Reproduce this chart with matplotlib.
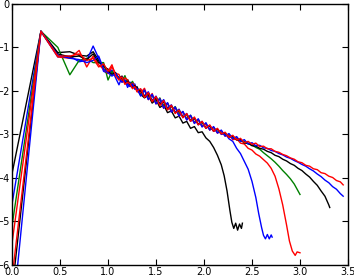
import matplotlib
matplotlib.use("Agg")
import matplotlib.pyplot as plt

# Head of every curve: first two points and the discrete points up to x = 1.3
x_head = [0.0, 0.301, 0.477, 0.602, 0.699, 0.778, 0.845, 0.903, 0.954, 1.0,
          1.041, 1.079, 1.114, 1.146, 1.176, 1.204, 1.230, 1.255, 1.279, 1.301]

black_a_head = [-3.9, -0.63, -1.12, -1.10, -1.18, -1.20, -1.10, -1.30, -1.45, -1.50,
                -1.58, -1.62, -1.70, -1.66, -1.78, -1.74, -1.85, -1.80, -1.95, -1.90]
blue_a_head = [-4.6, -0.63, -1.22, -1.20, -1.33, -1.30, -0.97, -1.25, -1.55, -1.60,
               -1.52, -1.70, -1.86, -1.68, -1.75, -1.92, -1.80, -1.88, -1.84, -2.00]
green_head = [-5.1, -0.63, -1.00, -1.63, -1.30, -1.25, -1.35, -1.35, -1.35, -1.75,
              -1.55, -1.62, -1.70, -1.78, -1.65, -1.82, -1.86, -1.78, -1.92, -1.95]
red_a_head = [-5.5, -0.63, -1.22, -1.25, -1.07, -1.45, -1.20, -1.40, -1.50, -1.60,
              -1.45, -1.60, -1.62, -1.80, -1.70, -1.75, -1.90, -1.82, -1.88, -2.02]
black_b_head = [-6.6, -0.63, -1.15, -1.22, -1.20, -1.28, -1.15, -1.35, -1.40, -1.55,
                -1.62, -1.58, -1.74, -1.70, -1.82, -1.78, -1.86, -1.92, -1.88, -1.98]
blue_b_head = [-7.3, -0.63, -1.18, -1.25, -1.28, -1.35, -1.30, -1.20, -1.50, -1.58,
               -1.66, -1.60, -1.72, -1.80, -1.76, -1.85, -1.90, -1.84, -1.96, -1.94]
red_b_head = [-6.3, -0.63, -1.20, -1.20, -1.15, -1.30, -1.25, -1.45, -1.38, -1.55,
              -1.40, -1.65, -1.75, -1.68, -1.85, -1.80, -1.84, -1.95, -1.90, -2.00]

# Tails of the curves
x_mid = [1.34, 1.38, 1.42, 1.46, 1.50, 1.54, 1.58, 1.62, 1.66, 1.70, 1.74, 1.78,
         1.82, 1.86, 1.90, 1.94, 1.98, 2.02, 2.06, 2.10, 2.14, 2.18]

black_a_x = x_mid + [2.21, 2.24, 2.27, 2.29, 2.31, 2.33, 2.35, 2.37, 2.39, 2.40]
black_a_y = [-2.08, -2.16, -2.10, -2.28, -2.20, -2.38, -2.32, -2.50, -2.46, -2.62,
             -2.58, -2.74, -2.70, -2.86, -2.82, -2.96, -2.94, -3.08, -3.16, -3.30,
             -3.48, -3.70, -3.95, -4.30, -4.75, -5.02, -5.16, -5.04, -5.20, -5.06,
             -5.16, -5.04]

blue_a_x = x_mid + [2.22, 2.26, 2.30, 2.34, 2.38, 2.42, 2.46, 2.50, 2.54, 2.57,
                    2.60, 2.62, 2.64, 2.66, 2.68, 2.70, 2.71]
blue_a_y = [-1.96, -2.12, -2.02, -2.22, -2.12, -2.30, -2.20, -2.40, -2.32, -2.50,
            -2.42, -2.60, -2.52, -2.70, -2.62, -2.78, -2.70, -2.86, -2.80, -2.93,
            -2.88, -3.00, -2.98, -3.10, -3.16, -3.32, -3.44, -3.62, -3.80, -4.08,
            -4.45, -4.82, -5.14, -5.32, -5.40, -5.30, -5.40, -5.31, -5.36]

green_x = x_mid + [2.22, 2.26, 2.30, 2.34, 2.38, 2.42, 2.46, 2.50, 2.54, 2.58,
                   2.62, 2.66, 2.70, 2.74, 2.78, 2.82, 2.86, 2.90, 2.94, 2.98, 3.00]
green_y = [-2.10, -1.98, -2.18, -2.10, -2.28, -2.16, -2.38, -2.28, -2.46, -2.36,
           -2.54, -2.48, -2.64, -2.56, -2.72, -2.66, -2.80, -2.76, -2.88, -2.84,
           -2.95, -2.92, -3.02, -3.00, -3.08, -3.08, -3.15, -3.16, -3.22, -3.24,
           -3.30, -3.34, -3.42, -3.49, -3.56, -3.64, -3.73, -3.83, -3.92, -4.02,
           -4.14, -4.30, -4.38]

red_a_x = x_mid + [2.22, 2.26, 2.30, 2.34, 2.38, 2.42, 2.46, 2.50, 2.54, 2.58,
                   2.62, 2.66, 2.70, 2.74, 2.78, 2.82, 2.86, 2.89, 2.92, 2.95,
                   2.97, 3.00]
red_a_y = [-2.04, -1.94, -2.20, -2.06, -2.30, -2.18, -2.40, -2.28, -2.48, -2.38,
           -2.58, -2.48, -2.66, -2.58, -2.74, -2.66, -2.82, -2.76, -2.90, -2.84,
           -2.97, -2.92, -3.04, -3.00, -3.12, -3.10, -3.20, -3.22, -3.32, -3.36,
           -3.45, -3.50, -3.58, -3.66, -3.78, -3.96, -4.25, -4.62, -5.08, -5.45,
           -5.68, -5.78, -5.70, -5.72]

x_long = x_mid + [2.22, 2.26, 2.30, 2.34, 2.38, 2.42, 2.46, 2.50, 2.54, 2.58,
                  2.62, 2.66, 2.70, 2.74, 2.78, 2.82, 2.86, 2.90, 2.94, 2.98,
                  3.02, 3.06, 3.10, 3.14, 3.18, 3.22, 3.26, 3.30]

black_b_x = x_long + [3.31]
black_b_y = [-2.00, -2.12, -2.06, -2.24, -2.16, -2.30, -2.26, -2.42, -2.35, -2.50,
             -2.46, -2.60, -2.54, -2.68, -2.63, -2.76, -2.72, -2.85, -2.80, -2.92,
             -2.88, -2.98, -2.96, -3.06, -3.04, -3.13, -3.12, -3.20, -3.20, -3.26,
             -3.27, -3.32, -3.34, -3.39, -3.42, -3.48, -3.51, -3.57, -3.61, -3.67,
             -3.71, -3.78, -3.83, -3.91, -3.98, -4.08, -4.17, -4.30, -4.42, -4.62,
             -4.68]

blue_b_x = x_long + [3.34, 3.38, 3.42, 3.45]
blue_b_y = [-2.12, -1.98, -2.20, -2.08, -2.30, -2.18, -2.40, -2.27, -2.49, -2.37,
            -2.58, -2.47, -2.67, -2.56, -2.75, -2.64, -2.83, -2.73, -2.90, -2.82,
            -2.97, -2.90, -3.04, -2.98, -3.10, -3.05, -3.16, -3.12, -3.22, -3.19,
            -3.26, -3.25, -3.31, -3.32, -3.37, -3.39, -3.44, -3.47, -3.52, -3.55,
            -3.60, -3.64, -3.69, -3.73, -3.79, -3.84, -3.91, -3.97, -4.05, -4.11,
            -4.20, -4.26, -4.36, -4.42]

red_b_x = x_long + [3.34, 3.38, 3.42, 3.45]
red_b_y = [-1.95, -2.15, -2.04, -2.25, -2.13, -2.34, -2.22, -2.44, -2.33, -2.52,
           -2.44, -2.62, -2.52, -2.70, -2.60, -2.78, -2.70, -2.86, -2.78, -2.93,
           -2.86, -2.99, -2.95, -3.07, -3.02, -3.13, -3.09, -3.19, -3.16, -3.23,
           -3.20, -3.28, -3.27, -3.33, -3.33, -3.39, -3.41, -3.46, -3.49, -3.54,
           -3.57, -3.63, -3.65, -3.71, -3.73, -3.79, -3.81, -3.88, -3.90, -3.96,
           -3.99, -4.06, -4.09, -4.16]

curves = [
    ("k", black_a_head, black_a_x, black_a_y),
    ("b", blue_a_head, blue_a_x, blue_a_y),
    ("g", green_head, green_x, green_y),
    ("r", red_a_head, red_a_x, red_a_y),
    ("k", black_b_head, black_b_x, black_b_y),
    ("b", blue_b_head, blue_b_x, blue_b_y),
    ("r", red_b_head, red_b_x, red_b_y),
]

fig = plt.figure(figsize=(3.54, 2.76), dpi=100)
ax = fig.add_axes([0.034, 0.04, 0.949, 0.946])

colors = {"k": "#000000", "b": "#0000ff", "g": "#008000", "r": "#ff0000"}
for c, head, xt, yt in curves:
    ax.plot(x_head + xt, head + yt, color=colors[c], lw=1.0)

ax.set_xlim(0, 3.5)
ax.set_ylim(-6, 0)
ax.set_xticks([0.0, 0.5, 1.0, 1.5, 2.0, 2.5, 3.0, 3.5])
ax.set_yticks([-6, -5, -4, -3, -2, -1, 0])
ax.tick_params(direction="in", top=True, right=True, length=4, width=0.8,
               labelsize=7, pad=1.5)
for s in ax.spines.values():
    s.set_linewidth(1.0)

fig.savefig("out.png", dpi=100)
